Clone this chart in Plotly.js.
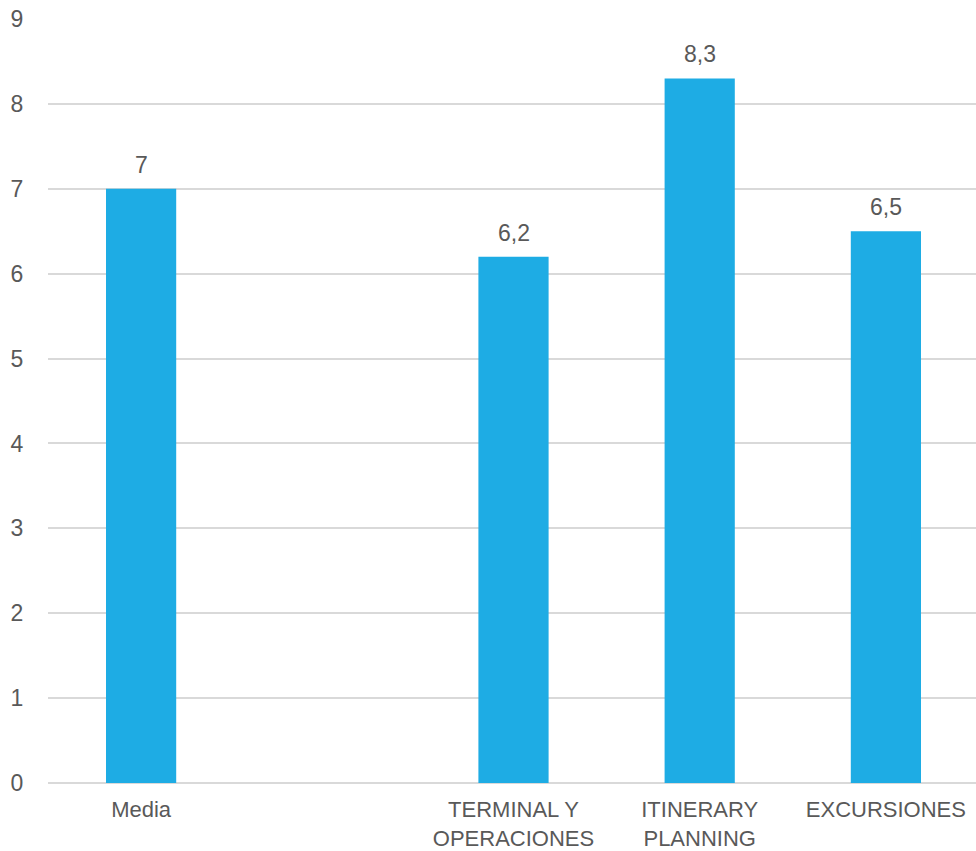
<!DOCTYPE html>
<html>
<head>
<meta charset="utf-8">
<script src="https://cdn.plot.ly/plotly-3.0.1.min.js"></script>
<style>
  html, body { margin: 0; padding: 0; background: #ffffff; overflow: hidden; }
  #chart { width: 979px; height: 851px; }
</style>
</head>
<body>
<div id="chart"></div>
<script>
const categories = ["Media", " ", "TERMINAL Y<br>OPERACIONES", "ITINERARY<br>PLANNING", "EXCURSIONES"];
const values = [7, null, 6.2, 8.3, 6.5];
const yTicks = [0, 1, 2, 3, 4, 5, 6, 7, 8, 9];

const barColor = "#1EACE4";
const textColor = "#595959";
const gridColor = "#D9D9D9";
const fontFamily = "Liberation Sans, Arial, sans-serif";
const fontSize = 23;

const trace = {
  type: "bar",
  x: categories,
  y: values,
  marker: { color: barColor },
  hoverinfo: "skip"
};

const annotations = [];
categories.forEach((c, i) => {
  if (values[i] === null) return;
  annotations.push({
    x: c,
    y: values[i],
    xref: "x",
    yref: "y",
    text: String(values[i]).replace(".", ","),
    showarrow: false,
    yanchor: "bottom",
    yshift: 9,
    font: { family: fontFamily, size: fontSize, color: textColor }
  });
});

const layout = {
  width: 979,
  height: 851,
  margin: { l: 48, r: 0, t: 19, b: 68 },
  paper_bgcolor: "#ffffff",
  plot_bgcolor: "#ffffff",
  showlegend: false,
  bargap: 0.623,
  font: { family: fontFamily, size: fontSize, color: textColor },
  xaxis: {
    type: "category",
    categoryorder: "array",
    categoryarray: categories,
    showgrid: false,
    showline: false,
    zeroline: false,
    ticks: "outside",
    ticklen: 7,
    tickcolor: "rgba(0,0,0,0)",
    tickfont: { family: fontFamily, size: 22, color: textColor },
    fixedrange: true
  },
  yaxis: {
    range: [0, 9],
    tickvals: yTicks,
    ticktext: yTicks.map(String),
    showgrid: true,
    gridcolor: gridColor,
    gridwidth: 2,
    zeroline: true,
    zerolinecolor: gridColor,
    zerolinewidth: 2,
    showline: false,
    ticks: "outside",
    ticklen: 19,
    tickcolor: "rgba(0,0,0,0)",
    tickfont: { family: fontFamily, size: fontSize, color: textColor },
    fixedrange: true
  },
  annotations: annotations
};

Plotly.newPlot("chart", [trace], layout, { displayModeBar: false, staticPlot: true });
</script>
</body>
</html>
